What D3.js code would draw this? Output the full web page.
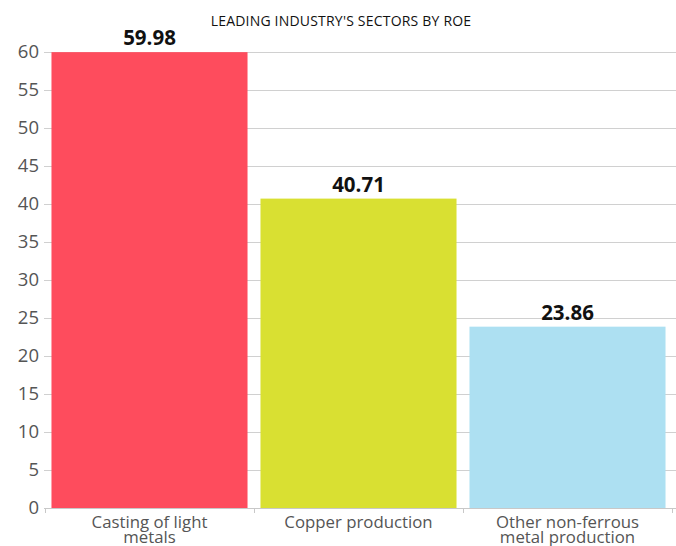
<!DOCTYPE html>
<html>
<head>
<meta charset="utf-8">
<script src="https://cdn.jsdelivr.net/npm/d3@7"></script>
<style>
  html, body { margin: 0; padding: 0; background: #fff; }
  svg { display: block; }
  text { font-family: "Open Sans", "Noto Sans", sans-serif; }
</style>
</head>
<body>
<svg id="chart" width="676" height="546"></svg>
<script>
const title = "LEADING INDUSTRY'S SECTORS BY ROE";
const categories = [["Casting of light", "metals"], ["Copper production"], ["Other non-ferrous", "metal production"]];
const values = [59.98, 40.71, 23.86];
const colors = ["#FE4C5D", "#D9E032", "#ADE0F2"];
const yTicks = [0, 5, 10, 15, 20, 25, 30, 35, 40, 45, 50, 55, 60];

const W = 676, H = 546;
const mLeft = 45, mRight = 672, mTop = 52, mBottom = 508;
const svg = d3.select("#chart");

const x = d3.scaleBand().domain(d3.range(values.length)).range([mLeft, mRight])
  .paddingInner(0.062).paddingOuter(0.031);
const y = d3.scaleLinear().domain([0, 60]).range([mBottom, mTop]);

// gridlines
svg.append("g").selectAll("line").data(yTicks).join("line")
  .attr("x1", 44).attr("x2", W)
  .attr("y1", d => Math.round(y(d)) + 0.5).attr("y2", d => Math.round(y(d)) + 0.5)
  .attr("stroke", "#d0d0d0").attr("stroke-width", 1);

// y labels
svg.append("g").selectAll("text").data(yTicks).join("text")
  .attr("x", 39).attr("y", d => y(d))
  .attr("dy", "0.35em")
  .attr("text-anchor", "end")
  .attr("font-size", 18.5)
  .attr("fill", "#555")
  .text(d => d);

// bars
svg.append("g").selectAll("rect").data(values).join("rect")
  .attr("x", (d, i) => x(i))
  .attr("width", x.bandwidth())
  .attr("y", d => y(d))
  .attr("height", d => y(0) - y(d))
  .attr("fill", (d, i) => colors[i]);

// x axis line and ticks
const step = x.step();
const bounds = d3.range(values.length + 1).map(i => mLeft + i * step);
svg.append("line").attr("x1", 44).attr("x2", W)
  .attr("y1", Math.round(y(0)) + 0.5).attr("y2", Math.round(y(0)) + 0.5)
  .attr("stroke", "#c8c8c8");
svg.append("g").selectAll("line").data(bounds).join("line")
  .attr("x1", d => Math.round(d) + 0.5).attr("x2", d => Math.round(d) + 0.5)
  .attr("y1", y(0)).attr("y2", y(0) + 5)
  .attr("stroke", "#c8c8c8");

// x labels
const xl = svg.append("g").selectAll("text").data(categories).join("text")
  .attr("text-anchor", "middle")
  .attr("font-size", 16.8)
  .attr("fill", "#555")
  .attr("x", (d, i) => x(i) + x.bandwidth() / 2)
  .attr("y", 527.5);
xl.selectAll("tspan").data(d => d).join("tspan")
  .attr("x", function() { return d3.select(this.parentNode).attr("x"); })
  .attr("dy", (d, i) => i === 0 ? 0 : 15)
  .text(d => d);

// value labels
svg.append("g").selectAll("text").data(values).join("text")
  .attr("x", (d, i) => x(i) + x.bandwidth() / 2)
  .attr("y", d => y(d) - 7)
  .attr("text-anchor", "middle")
  .attr("font-size", 20.5)
  .attr("font-weight", "bold")
  .attr("fill", "#111")
  .text(d => d.toFixed(2));

// title
svg.append("text")
  .attr("x", 341).attr("y", 25.5)
  .attr("text-anchor", "middle")
  .attr("font-size", 14)
  .attr("letter-spacing", 0.2)
  .attr("fill", "#111")
  .text(title);
</script>
</body>
</html>
